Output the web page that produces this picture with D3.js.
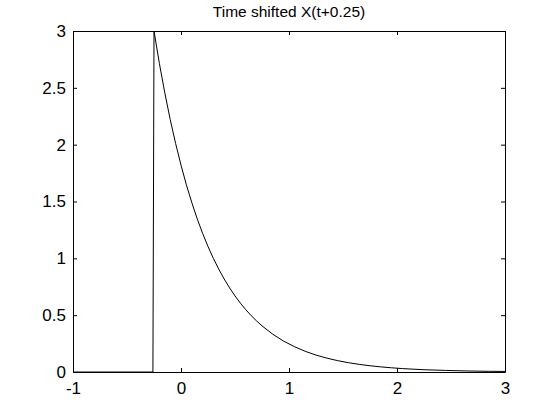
<!DOCTYPE html>
<html>
<head>
<meta charset="utf-8">
<script src="https://cdn.jsdelivr.net/npm/d3@7"></script>
<style>
  body { margin: 0; background: #fff; }
  svg { display: block; }
  text { font-family: "Liberation Sans", Arial, sans-serif; fill: #000; }
</style>
</head>
<body>
<div id="chart"></div>
<script>
// values
let tValues = [-1, -0.26, -0.25, -0.2, -0.15, -0.1, -0.05, 0, 0.05, 0.1, 0.15, 0.2, 0.25, 0.3, 0.35, 0.4, 0.45, 0.5, 0.55, 0.6, 0.65, 0.7, 0.75,
    0.85, 0.95, 1.05, 1.15, 1.25, 1.35, 1.45, 1.55, 1.65, 1.75, 1.85, 1.95, 2.05, 2.25, 2.45, 2.65, 2.85, 3];
let xValues = [0, 0, 3, 2.714, 2.456, 2.222, 2.011, 1.82, 1.646, 1.49, 1.348, 1.22, 1.104, 0.999, 0.904, 0.818, 0.74, 0.669, 0.606, 0.548, 0.496, 0.449, 0.406,
    0.332, 0.272, 0.223, 0.182, 0.149, 0.122, 0.1, 0.082, 0.067, 0.055, 0.045, 0.037, 0.03, 0.02, 0.014, 0.009, 0.006, 0.005];
let xTicks = [-1, 0, 1, 2, 3];
let yTicks = [0, 0.5, 1, 1.5, 2, 2.5, 3];
let title = 'Time shifted X(t+0.25)';

let w = 560, h = 420;
let mLeft = 73, mRight = 505, mTop = 31, mBottom = 372;
let tickLen = 4;

let x = d3.scaleLinear().domain([-1, 3]).range([mLeft, mRight]);
let y = d3.scaleLinear().domain([0, 3]).range([mBottom, mTop]);

let svg = d3.select('#chart')
    .append('svg')
    .attr('width', w)
    .attr('height', h);

// curve
let line = d3.line()
    .x(function(d, i) { return x(tValues[i]); })
    .y(function(d) { return y(d); });

svg.append('path')
    .attr('d', line(xValues))
    .attr('fill', 'none')
    .attr('stroke', '#000')
    .attr('stroke-width', 1);

// plain hyphen for negatives, like matlab
let fmt = function(d) { return String(d); };

// axes, ticks pointing inward on all 4 sides
let xAxisB = d3.axisBottom(x).tickValues(xTicks).tickSizeInner(-tickLen).tickSizeOuter(0).tickPadding(10).tickFormat(fmt);
let xAxisT = d3.axisTop(x).tickValues(xTicks).tickSizeInner(-tickLen).tickSizeOuter(0).tickFormat('');
let yAxisL = d3.axisLeft(y).tickValues(yTicks).tickSizeInner(-tickLen).tickSizeOuter(0).tickPadding(10).tickFormat(fmt);
let yAxisR = d3.axisRight(y).tickValues(yTicks).tickSizeInner(-tickLen).tickSizeOuter(0).tickFormat('');

let gB = svg.append('g').attr('transform', 'translate(0,' + mBottom + ')').call(xAxisB);
let gT = svg.append('g').attr('transform', 'translate(0,' + mTop + ')').call(xAxisT);
let gL = svg.append('g').attr('transform', 'translate(' + mLeft + ',0)').call(yAxisL);
let gR = svg.append('g').attr('transform', 'translate(' + mRight + ',0)').call(yAxisR);

[gB, gT, gL, gR].forEach(function(g) {
    g.selectAll('path, line').attr('stroke', '#000').attr('stroke-width', 1);
    g.selectAll('text').style('font-size', '17px').style('font-family', '"Liberation Sans", Arial, sans-serif').attr('fill', '#000');
});
gB.selectAll('text').attr('dy', '0.71em');
gL.selectAll('text').attr('x', -7);

svg.append('text')
    .attr('x', (mLeft + mRight) / 2)
    .attr('y', 17)
    .attr('text-anchor', 'middle')
    .style('font-size', '15.5px')
    .text(title);
</script>
</body>
</html>
